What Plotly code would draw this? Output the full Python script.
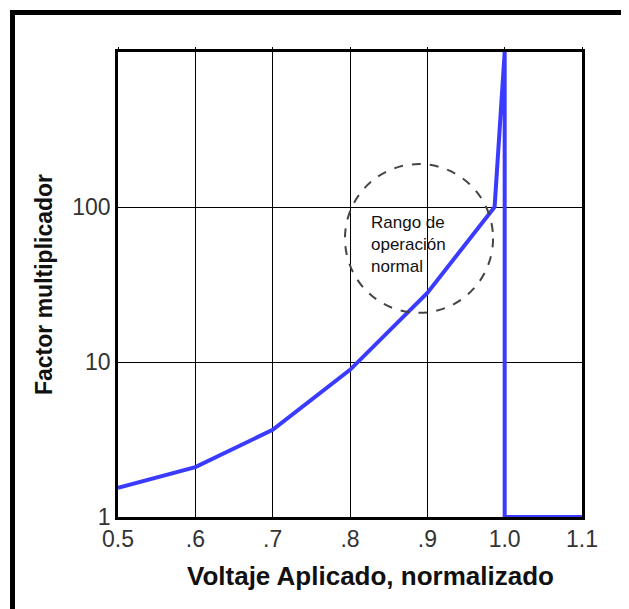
import plotly.graph_objects as go

voltage = [0.5, 0.6, 0.7, 0.8, 0.9, 0.987, 1.0, 1.0, 1.1]
factor = [1.54, 2.1, 3.65, 8.9, 27.9, 100, 1000, 1, 1]

x_ticks = [0.5, 0.6, 0.7, 0.8, 0.9, 1.0, 1.1]
x_ticklabels = ["0.5", ".6", ".7", ".8", ".9", "1.0", "1.1"]
y_ticks = [1, 10, 100]
y_ticklabels = ["1", "10", "100"]

# page body has an 8px margin; figure sized to fit the 629x609 window
W, H = 621, 601
L, R, T, B = 110, 47, 44, 92
pw, ph = W - L - R, H - T - B

fig = go.Figure()
fig.add_trace(go.Scatter(x=voltage, y=factor, mode="lines",
                         line=dict(color="#3b3bff", width=4),
                         hoverinfo="skip", showlegend=False))
# invisible trace for top ticks axis
fig.add_trace(go.Scatter(x=[0.5, 1.1], y=[1, 1], xaxis="x2", mode="lines",
                         line=dict(width=0), opacity=0, showlegend=False,
                         hoverinfo="skip"))

font_tick = dict(family="Liberation Sans, Arial", size=23, color="#333333")
fig.update_layout(
    width=W, height=H,
    margin=dict(l=L, r=R, t=T, b=B),
    paper_bgcolor="white", plot_bgcolor="white",
    xaxis=dict(range=[0.5, 1.1], tickvals=x_ticks, ticktext=x_ticklabels,
               showgrid=True, gridcolor="black", gridwidth=1,
               showline=True, linecolor="black", linewidth=2.5, mirror=True,
               ticks="", tickfont=font_tick, zeroline=False),
    xaxis2=dict(range=[0.5, 1.1], overlaying="x", side="top", tickvals=x_ticks,
                showticklabels=False, ticks="outside", ticklen=4, tickcolor="black",
                tickwidth=1, showgrid=False, zeroline=False, showline=False),
    yaxis=dict(type="log", range=[0, 3], tickvals=y_ticks, ticktext=y_ticklabels,
               showgrid=True, gridcolor="black", gridwidth=1,
               showline=True, linecolor="black", linewidth=2.5, mirror=True,
               ticks="", tickfont=font_tick, zeroline=False,
               title=dict(text="<b>Factor multiplicador</b>",
                          font=dict(family="Liberation Sans, Arial", size=23, color="#111"),
                          standoff=14)),
)

# x-axis title (sits right of centre in the original)
fig.add_annotation(xref="paper", yref="paper", x=(370 - 118) / pw, y=-59 / ph,
                   xanchor="center", yanchor="middle", showarrow=False,
                   text="<b>Voltaje Aplicado, normalizado</b>",
                   font=dict(family="Liberation Sans, Arial", size=26, color="#111"))

# dashed circle marking normal operating range
fig.add_shape(type="circle", xref="x", yref="paper",
              x0=0.7935, x1=0.985, y0=0.439, y1=0.759,
              line=dict(color="#444444", width=2, dash="dash"))

fig.add_annotation(xref="x", yref="paper", x=0.824, y=0.658,
                   xanchor="left", yanchor="top", align="left", showarrow=False,
                   text="Rango de<br>operación<br>normal",
                   font=dict(family="Liberation Sans, Arial", size=17, color="#111"))

# outer frame border (only left and top edges fall inside the image)
fig.add_shape(type="rect", xref="paper", yref="paper", layer="above",
              x0=(4.5 - L) / pw, x1=(W + 30 - L) / pw,
              y0=-(H + 30 - T - ph) / ph, y1=(ph + T - 4.5) / ph,
              line=dict(color="black", width=5))

fig.write_html("out.html")
